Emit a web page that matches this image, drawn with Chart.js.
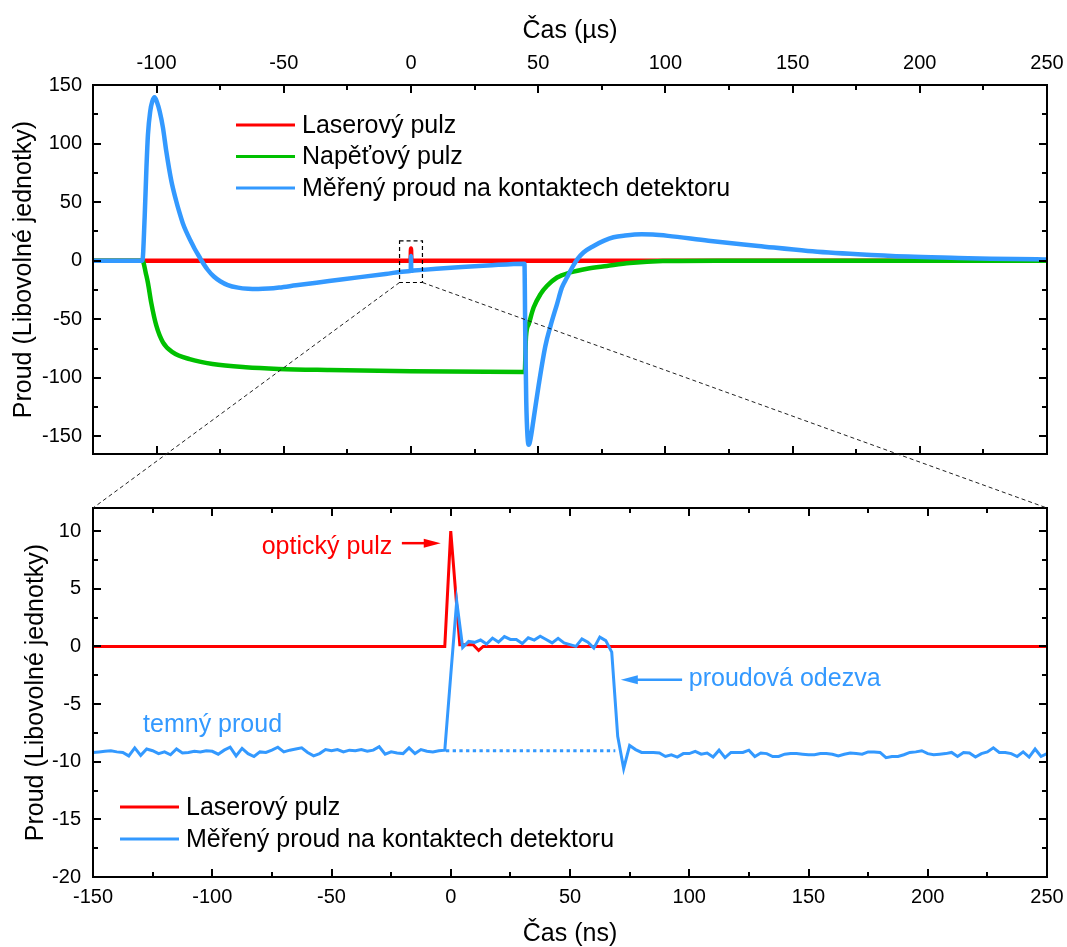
<!DOCTYPE html>
<html>
<head>
<meta charset="utf-8">
<script src="https://cdn.jsdelivr.net/npm/chart.js@4.4.1/dist/chart.umd.min.js"></script>
<style>
  html, body { margin: 0; padding: 0; background: #fff; }
  #wrap { position: relative; width: 1067px; height: 947px; }
  canvas { position: absolute; left: 0; }
</style>
</head>
<body>
<div id="wrap">
  <canvas id="top" width="1067" height="470" style="top:0"></canvas>
  <canvas id="bottom" width="1067" height="477" style="top:470px"></canvas>
  <canvas id="links" width="1067" height="947" style="top:0;pointer-events:none"></canvas>
</div>
<script>
// top panel, time in µs
const laserUsX = [-125, -0.15, 0, 0.15, 250];
const laserUsY = [0, 0, 10.5, 0, 0];

const voltUsX = [-125, -105.5, -105.1, -104.3, -103.4, -102.1, -100.1, -97.5, -93.6, -87, -78, -65, -52, -32, 0,
  44.7, 45.2, 46.3, 48.2, 50.9, 53.5, 57.4, 62.6, 69.2, 77, 86, 99, 120, 250];
const voltUsY = [0, 0, -2, -10, -19, -36, -55.5, -69.7, -78.2, -84, -88.2, -91, -92.4, -93.3, -94.3,
  -95, -65, -54, -40, -28.5, -21.4, -14.3, -10, -6.8, -4.5, -2, -0.3, 0, 0];

const currUsX = [-125, -105.6, -104.7, -104, -103.4, -102.5, -101.7, -100.8, -99.8, -98.8, -97.5, -96.2, -94.2,
  -92.3, -91, -89.7, -88.4, -86.4, -85, -83.1, -82.3, -80, -77.5, -75, -72, -68, -64, -60, -56, -51.8, -45.2,
  -32.2, -20, -10, -1, -0.1, 0, 0.1, 1,
  10, 20, 30, 44.6, 44.9, 45.3, 45.8, 46.3, 47, 48.2, 50.2, 52.8, 54.8, 57.4, 59.3, 61.3, 63.3, 65.5, 67.8,
  71.8, 75.7, 79.6, 84.2, 90.7, 95, 101, 116.9, 136.5, 156, 175.7, 195.3, 215, 228, 246, 250];
const currUsY = [0, 0, 36.8, 79, 107.7, 127.6, 136, 139.5, 135, 127.6, 113.5, 93.5, 68,
  51, 41, 32, 25, 16, 10, 3, 0, -7.5, -13.5, -17.5, -20.8, -23, -24, -24.2, -23.8, -22.9, -21.0,
  -17.4, -14.0, -11.3, -8.95, -8.7, 4, -8.6, -8.45,
  -6.9, -5.4, -4.1, -2.5, -60, -120, -150, -157, -152, -135, -106, -73, -56, -37, -23, -14.4, -6, 1.5, 7,
  12.6, 16.9, 20, 21.5, 22.5, 22.3, 21.2, 17, 12.6, 8.3, 5.5, 3.5, 2.4, 1.7, 1.2, 1.0];

const usTicks = [-100, -50, 0, 50, 100, 150, 200, 250];
const topYTicks = [-150, -100, -50, 0, 50, 100, 150];
const zoomBoxUs = [-4.5, 4.5];
const zoomBoxY = [-18.6, 16.9];

// bottom panel, time in ns
const nsTime = [
  -150, -147.5, -145, -142.5, -140, -137.5, -135, -132.5, -130, -127.5,
  -125, -122.5, -120, -117.5, -115, -112.5, -110, -107.5, -105, -102.5,
  -100, -97.5, -95, -92.5, -90, -87.5, -85, -82.5, -80, -77.5,
  -75, -72.5, -70, -67.5, -65, -62.5, -60, -57.5, -55, -52.5,
  -50, -47.5, -45, -42.5, -40, -37.5, -35, -32.5, -30, -27.5,
  -25, -22.5, -20, -17.5, -15, -12.5, -10, -7.5, -5, -2.5,
  0, 2.5, 5, 7.5, 10, 12.5, 15, 17.5, 20, 22.5,
  25, 27.5, 30, 32.5, 35, 37.5, 40, 42.5, 45, 47.5,
  50, 52.5, 55, 57.5, 60, 62.5, 65, 67.5, 70, 72.5,
  75, 77.5, 80, 82.5, 85, 87.5, 90, 92.5, 95, 97.5,
  100, 102.5, 105, 107.5, 110, 112.5, 115, 117.5, 120, 122.5,
  125, 127.5, 130, 132.5, 135, 137.5, 140, 142.5, 145, 147.5,
  150, 152.5, 155, 157.5, 160, 162.5, 165, 167.5, 170, 172.5,
  175, 177.5, 180, 182.5, 185, 187.5, 190, 192.5, 195, 197.5,
  200, 202.5, 205, 207.5, 210, 212.5, 215, 217.5, 220, 222.5,
  225, 227.5, 230, 232.5, 235, 237.5, 240, 242.5, 245, 247.5,
  250];
const currNs = [
  -9.2, -9.15, -9.1, -9.05, -9.15, -9.2, -9.5, -8.8, -9.45, -8.9,
  -9.05, -9.3, -9.15, -9.4, -8.9, -9.25, -9.2, -9.1, -9.15, -9.05,
  -9.1, -9.35, -9.0, -8.75, -9.5, -8.85, -9.3, -9.55, -9.15, -9.2,
  -9.0, -8.75, -9.15, -9.0, -8.9, -8.8, -9.2, -9.5, -9.3, -8.95,
  -9.05, -8.95, -9.15, -9.0, -9.05, -8.95, -9.1, -9.0, -8.7, -9.35,
  -9.15, -9.25, -9.3, -8.8, -9.3, -8.95, -9.1, -9.15, -9.05, -9.0,
  -2.5, 3.9, -0.1, 0.43, 0.35, 0.55, 0.2, 0.72, 0.37, 0.85,
  0.6, 0.6, 0.25, 0.75, 0.55, 0.88, 0.6, 0.3, 0.7, 0.3,
  0.15, 0.0, 0.65, 0.37, -0.15, 0.8, 0.5, -0.5, -7.8, -10.6,
  -8.6, -8.95, -9.2, -9.2, -9.2, -9.25, -9.55, -9.4, -9.6, -9.3,
  -9.3, -9.1, -9.35, -9.25, -9.6, -9.0, -9.65, -9.2, -9.2, -9.2,
  -9.0, -9.55, -9.25, -9.3, -9.55, -9.55, -9.35, -9.3, -9.3, -9.35,
  -9.4, -9.4, -9.3, -9.3, -9.35, -9.5, -9.35, -9.25, -9.3, -9.35,
  -9.15, -9.15, -9.2, -9.65, -9.55, -9.55, -9.4, -9.2, -9.15, -9.05,
  -9.3, -9.4, -9.35, -9.3, -9.2, -9.55, -9.2, -9.25, -9.6, -9.3,
  -9.15, -8.8, -9.2, -9.2, -9.3, -9.55, -9.15, -9.6, -8.9, -9.55,
  -9.3];
const laserNsX = [-150, -2.5, 0, 3.8, 9.4, 11.7, 13.6, 250];
const laserNsY = [0, 0, 10, 0.15, 0.15, -0.35, 0, 0];
const darkNsX = [-2, 69];
const darkNsY = [-9.05, -9.05];

const nsTicks = [-150, -100, -50, 0, 50, 100, 150, 200, 250];
const bottomYTicks = [-20, -15, -10, -5, 0, 5, 10];

const RED = '#ff0000', GREEN = '#00c000', BLUE = '#3399ff';
const FONT = "'Liberation Sans', Arial, Helvetica, sans-serif";
Chart.defaults.font.family = FONT;
Chart.defaults.color = '#000';

const pts = (xs, ys) => xs.map((x, i) => ({x, y: ys[i]}));
const setTicks = vals => s => { s.ticks = vals.map(v => ({value: v})); };
// fixed axis size, and no extra room asked for labels hanging over the ends
const fixSize = (key, val) => s => {
  s[key] = val;
  s.paddingLeft = s.paddingRight = s.paddingTop = s.paddingBottom = 0;
};

function minorValues(majors, min, max) {
  const half = (majors[1] - majors[0]) / 2;
  const out = [];
  for (let v = majors[0] - half; v >= min - 1e-9; v -= 2 * half) out.push(v);
  for (let i = 0; i < majors.length - 1; i++) out.push(majors[i] + half);
  for (let v = majors[majors.length - 1] + half; v <= max + 1e-9; v += 2 * half) out.push(v);
  return out;
}

// box round the plot, ticks pointing inwards on all four sides
function drawFrame(chart, xMajors, yMajors) {
  const {ctx, chartArea: a} = chart;
  const x = chart.scales.x, y = chart.scales.y;
  ctx.save();
  ctx.strokeStyle = '#000';
  ctx.lineWidth = 2;
  ctx.beginPath();
  for (const [vals, len] of [[xMajors, 8], [minorValues(xMajors, x.min, x.max), 5]]) {
    for (const v of vals) {
      const px = Math.round(x.getPixelForValue(v));
      ctx.moveTo(px, a.top); ctx.lineTo(px, a.top + len);
      ctx.moveTo(px, a.bottom); ctx.lineTo(px, a.bottom - len);
    }
  }
  for (const [vals, len] of [[yMajors, 8], [minorValues(yMajors, y.min, y.max), 5]]) {
    for (const v of vals) {
      const py = Math.round(y.getPixelForValue(v));
      ctx.moveTo(a.left, py); ctx.lineTo(a.left + len, py);
      ctx.moveTo(a.right, py); ctx.lineTo(a.right - len, py);
    }
  }
  ctx.stroke();
  ctx.strokeRect(a.left, a.top, a.right - a.left, a.bottom - a.top);
  ctx.restore();
}

function drawLegend(chart, x0, x1, xt, y0, dy, lineW) {
  const ctx = chart.ctx;
  ctx.save();
  ctx.font = '25px ' + FONT;
  ctx.textBaseline = 'middle';
  ctx.textAlign = 'left';
  chart.data.datasets.filter(d => d.label).forEach((d, i) => {
    const yy = y0 + i * dy;
    ctx.strokeStyle = d.borderColor;
    ctx.lineWidth = lineW;
    ctx.beginPath(); ctx.moveTo(x0, yy); ctx.lineTo(x1, yy); ctx.stroke();
    ctx.fillStyle = '#000';
    ctx.fillText(d.label, xt, yy + 1);
  });
  ctx.restore();
}

function arrow(ctx, x0, y0, x1, y1, color) {
  const dir = Math.sign(x1 - x0);
  ctx.save();
  ctx.strokeStyle = color; ctx.fillStyle = color; ctx.lineWidth = 2.5;
  ctx.beginPath(); ctx.moveTo(x0, y0); ctx.lineTo(x1 - dir * 12, y1); ctx.stroke();
  ctx.beginPath();
  ctx.moveTo(x1, y1);
  ctx.lineTo(x1 - dir * 17, y1 - 4.5);
  ctx.lineTo(x1 - dir * 17, y1 + 4.5);
  ctx.closePath(); ctx.fill();
  ctx.restore();
}

const topChart = new Chart(document.getElementById('top'), {
  type: 'line',
  data: {
    datasets: [
      {label: 'Laserový pulz', data: pts(laserUsX, laserUsY), borderColor: RED, order: 3},
      {label: 'Napěťový pulz', data: pts(voltUsX, voltUsY), borderColor: GREEN, order: 2},
      {label: 'Měřený proud na kontaktech detektoru', data: pts(currUsX, currUsY), borderColor: BLUE, order: 1}
    ]
  },
  options: {
    responsive: false, animation: false, devicePixelRatio: 1,
    layout: {autoPadding: false, padding: {left: 0, right: 20, top: 0, bottom: 16}},
    elements: {
      point: {radius: 0},
      line: {borderWidth: 4.5, borderJoinStyle: 'round', cubicInterpolationMode: 'monotone'}
    },
    plugins: {legend: {display: false}, tooltip: {enabled: false}},
    scales: {
      x: {
        type: 'linear', position: 'top', min: -125, max: 250,
        grid: {display: false, drawTicks: false}, border: {display: false},
        afterBuildTicks: setTicks(usTicks),
        afterFit: fixSize('height', 85),
        ticks: {font: {size: 20}, padding: 10, maxRotation: 0, autoSkip: false},
        title: {display: true, text: 'Čas (µs)', font: {size: 25}, padding: {top: 16, bottom: 0}}
      },
      y: {
        type: 'linear', min: -165, max: 150,
        grid: {display: false, drawTicks: false}, border: {display: false},
        afterBuildTicks: setTicks(topYTicks),
        afterFit: fixSize('width', 93),
        ticks: {font: {size: 20}, padding: 11, autoSkip: false},
        title: {display: true, text: 'Proud (Libovolné jednotky)', font: {size: 25}, padding: {top: 9, bottom: 0}}
      }
    }
  },
  plugins: [{
    id: 'topExtras',
    afterDatasetsDraw(chart) {
      drawFrame(chart, usTicks, topYTicks);
      const {ctx, chartArea: a} = chart;
      const x = chart.scales.x, y = chart.scales.y;
      // dashed box round the zoomed region
      ctx.save();
      ctx.setLineDash([4, 3]);
      ctx.lineWidth = 1.2;
      ctx.strokeStyle = '#000';
      const bx0 = x.getPixelForValue(zoomBoxUs[0]), bx1 = x.getPixelForValue(zoomBoxUs[1]);
      const by0 = y.getPixelForValue(zoomBoxY[1]), by1 = y.getPixelForValue(zoomBoxY[0]);
      ctx.strokeRect(bx0, by0, bx1 - bx0, by1 - by0);
      ctx.restore();
      drawLegend(chart, a.left + 143, a.left + 202, a.left + 209, a.top + 40, 31.5, 3);
    }
  }]
});

const bottomChart = new Chart(document.getElementById('bottom'), {
  type: 'line',
  data: {
    datasets: [
      {label: 'Laserový pulz', data: pts(laserNsX, laserNsY), borderColor: RED, order: 3},
      {label: 'Měřený proud na kontaktech detektoru', data: pts(nsTime, currNs), borderColor: BLUE, order: 1},
      {label: '', data: pts(darkNsX, darkNsY), borderColor: BLUE, borderDash: [3.3, 3.4], borderCapStyle: 'butt', order: 2}
    ]
  },
  options: {
    responsive: false, animation: false, devicePixelRatio: 1,
    layout: {autoPadding: false, padding: {left: 0, right: 20, top: 38, bottom: 0}},
    elements: {point: {radius: 0}, line: {borderWidth: 3, tension: 0}},
    plugins: {legend: {display: false}, tooltip: {enabled: false}},
    scales: {
      x: {
        type: 'linear', position: 'bottom', min: -150, max: 250,
        grid: {display: false, drawTicks: false}, border: {display: false},
        afterBuildTicks: setTicks(nsTicks),
        afterFit: fixSize('height', 70),
        ticks: {font: {size: 20}, padding: 8, maxRotation: 0, autoSkip: false},
        title: {display: true, text: 'Čas (ns)', font: {size: 25, lineHeight: 1.0}, padding: {top: 0, bottom: 0}}
      },
      y: {
        type: 'linear', min: -20, max: 12,
        grid: {display: false, drawTicks: false}, border: {display: false},
        afterBuildTicks: setTicks(bottomYTicks),
        afterFit: fixSize('width', 93),
        ticks: {font: {size: 20}, padding: 12, autoSkip: false},
        title: {display: true, text: 'Proud (Libovolné jednotky)', font: {size: 25}, padding: {top: 21, bottom: 0}}
      }
    }
  },
  plugins: [{
    id: 'bottomExtras',
    afterDatasetsDraw(chart) {
      drawFrame(chart, nsTicks, bottomYTicks);
      const {ctx, chartArea: a} = chart;
      const x = chart.scales.x, y = chart.scales.y;
      const X = v => x.getPixelForValue(v), Y = v => y.getPixelForValue(v);
      ctx.save();
      ctx.font = '25px ' + FONT;
      ctx.textBaseline = 'middle';
      ctx.fillStyle = RED;
      ctx.textAlign = 'right';
      ctx.fillText('optický pulz', X(-24.5), Y(8.6));
      arrow(ctx, X(-20.5), Y(8.95), X(-4.2), Y(8.95), RED);
      ctx.fillStyle = BLUE;
      ctx.textAlign = 'left';
      ctx.fillText('temný proud', X(-129), Y(-6.8));
      ctx.fillText('proudová odezva', X(99.8), Y(-2.85));
      arrow(ctx, X(97), Y(-2.9), X(71.3), Y(-2.9), BLUE);
      ctx.restore();
      drawLegend(chart, a.left + 27, a.left + 86, a.left + 93, a.top + 299, 32, 3);
    }
  }]
});

// dashed connectors from the zoom box to the lower panel
(function () {
  const ctx = document.getElementById('links').getContext('2d');
  const tx = topChart.scales.x, ty = topChart.scales.y;
  const ba = bottomChart.chartArea;
  const off = 470;
  const yb = ty.getPixelForValue(zoomBoxY[0]);
  ctx.setLineDash([4, 3]);
  ctx.lineWidth = 1;
  ctx.strokeStyle = '#222';
  ctx.beginPath();
  ctx.moveTo(tx.getPixelForValue(zoomBoxUs[0]), yb);
  ctx.lineTo(ba.left, off + ba.top);
  ctx.moveTo(tx.getPixelForValue(zoomBoxUs[1]), yb);
  ctx.lineTo(ba.right, off + ba.top);
  ctx.stroke();
})();
</script>
</body>
</html>
